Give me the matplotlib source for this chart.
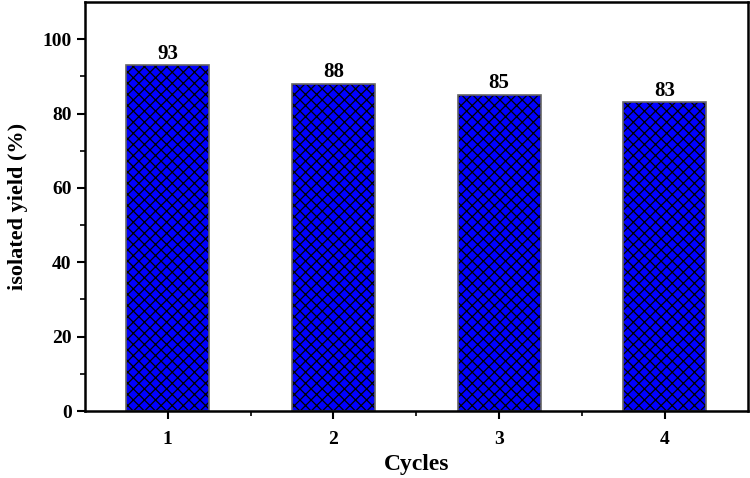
import matplotlib
matplotlib.use("Agg")
import matplotlib.pyplot as plt
import numpy as np

cycles = [1, 2, 3, 4]
yields = [93, 88, 85, 83]
labels = ["93", "88", "85", "83"]

plt.rcParams['font.family'] = ['Liberation Serif', 'DejaVu Serif']
plt.rcParams['font.weight'] = 'bold'
plt.rcParams['hatch.linewidth'] = 0.9

fig = plt.figure(figsize=(7.5, 4.78), dpi=100)
ax = fig.add_axes([0.113, 0.140, 0.884, 0.856])

# hatched fill, then a grey outline on top
bars = ax.bar(cycles, yields, width=0.5, color='#0000ff', edgecolor='black',
              linewidth=0, hatch='xxx')
ax.bar(cycles, yields, width=0.5, fill=False, edgecolor='#666666', linewidth=1.2)
for b, t in zip(bars, labels):
    ax.text(b.get_x() + b.get_width() / 2, b.get_height() + 0.4, t,
            ha='center', va='bottom', fontsize=15, fontweight='bold')

ax.set_xlim(0.5, 4.5)
ax.set_ylim(0, 110)
ax.set_xticks(cycles)
ax.set_xticks([1.5, 2.5, 3.5], minor=True)
ax.set_yticks(np.arange(0, 101, 20))
ax.set_yticks(np.arange(10, 101, 20), minor=True)
ax.tick_params(axis='both', which='major', length=6, width=1.5, labelsize=14, direction='out')
ax.tick_params(axis='x', which='major', pad=8)
ax.tick_params(axis='both', which='minor', length=3.5, width=1.2, direction='out')
for s in ax.spines.values():
    s.set_linewidth(1.8)

ax.set_xlabel('Cycles', fontsize=17, fontweight='bold')
ax.xaxis.set_label_coords(0.5, -0.105)
ax.set_ylabel('isolated yield (%)', fontsize=16, fontweight='bold', labelpad=10)

fig.savefig('out.png', dpi=100)
